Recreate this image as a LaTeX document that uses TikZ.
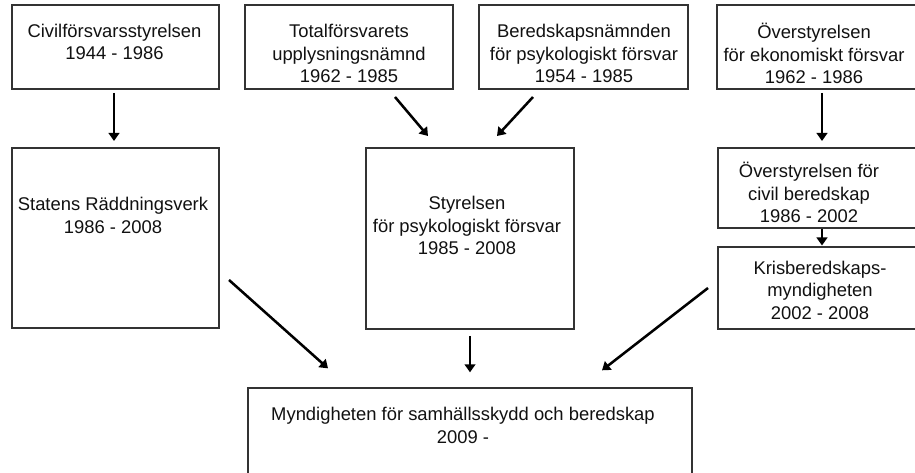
\documentclass[tikz,border=0pt]{standalone}
\usepackage{fontspec}
\setmainfont{Liberation Sans}
\usetikzlibrary{calc,arrows.meta}
\definecolor{boxgray}{HTML}{333333}
\definecolor{txt}{HTML}{111111}
\begin{document}
\begin{tikzpicture}[x=0.75pt,y=-0.75pt,
  box/.style={draw=boxgray, line width=1.3pt, inner sep=0pt, outer sep=0pt, fill=white},
  lbl/.style={align=center, text=txt, font=\fontsize{13.8}{16.9}\selectfont, inner sep=0pt},
  arr/.style={line width=1.9pt, -{Triangle[width=8pt,length=6pt]}}]
\useasboundingbox (0,0) rectangle (915,473);
\clip (0,0) rectangle (915,473);
\fill[white] (0,0) rectangle (915,473);
% boxes
\node[box, minimum width=155.25pt, minimum height=63pt] (A) at (115.5,47) {};
\node[box, minimum width=156pt, minimum height=63pt] (B) at (349,47) {};
\node[box, minimum width=156.75pt, minimum height=63pt] (C) at (583.5,47) {};
\node[box, minimum width=159.75pt, minimum height=63pt] (D) at (823.5,47) {};
\node[box, minimum width=155.25pt, minimum height=135pt] (E) at (115.5,238) {};
\node[box, minimum width=156pt, minimum height=135.75pt] (F) at (470,238.5) {};
\node[box, minimum width=159pt, minimum height=60pt] (G) at (824,188) {};
\node[box, minimum width=159pt, minimum height=61.5pt] (H) at (824,288) {};
\node[box, minimum width=333pt, minimum height=64pt] (I) at (470,431) {};
% labels
\node[lbl] (tA) at (114.5,42) {Civilförsvarsstyrelsen\\1944 - 1986};
\node[lbl] (tB) at (349,53.5) {Totalförsvarets\\upplysningsnämnd\\1962 - 1985};
\node[lbl] (tC) at (584,53.5) {Beredskapsnämnden\\för psykologiskt försvar\\1954 - 1985};
\node[lbl] (tD) at (814,53.5) {Överstyrelsen\\för ekonomiskt försvar\\1962 - 1986};
\node[lbl] (tE) at (113,215.5) {Statens Räddningsverk\\1986 - 2008};
\node[lbl] (tF) at (467,225.5) {Styrelsen\\för psykologiskt försvar\\1985 - 2008};
\node[lbl] (tG) at (809,192.5) {Överstyrelsen för\\civil beredskap\\1986 - 2002};
\node[lbl] (tH) at (820,290) {Krisberedskaps-\\myndigheten\\2002 - 2008};
\node[lbl] (tI) at (463,425.5) {Myndigheten för samhällsskydd och beredskap\\2009 -};
% arrows
\draw[arr] ($(A.south)+(-1.5,4)$) -- ($(E.north)+(-1.5,-7)$);
\draw[arr] ($(B.south west)+(150,8)$) -- ($(F.north west)+(62,-12)$);
\draw[arr] ($(C.south west)+(54,8)$) -- ($(F.north east)+(-77,-12)$);
\draw[arr] ($(D.south west)+(105,4)$) -- ($(G.north west)+(104,-7)$);
\draw[arr] ($(G.south west)+(104,1)$) -- ($(H.north west)+(104,-1.5)$);
\draw[arr] ($(E.east)+(10,42)$) -- ($(I.north west)+(80,-20)$);
\draw[arr] ($(F.south)+(0,7)$) -- ($(I.north)+(0,-16)$);
\draw[arr] ($(H.west)+(-10,0)$) -- ($(I.north east)+(-90,-18)$);
\end{tikzpicture}
\end{document}
